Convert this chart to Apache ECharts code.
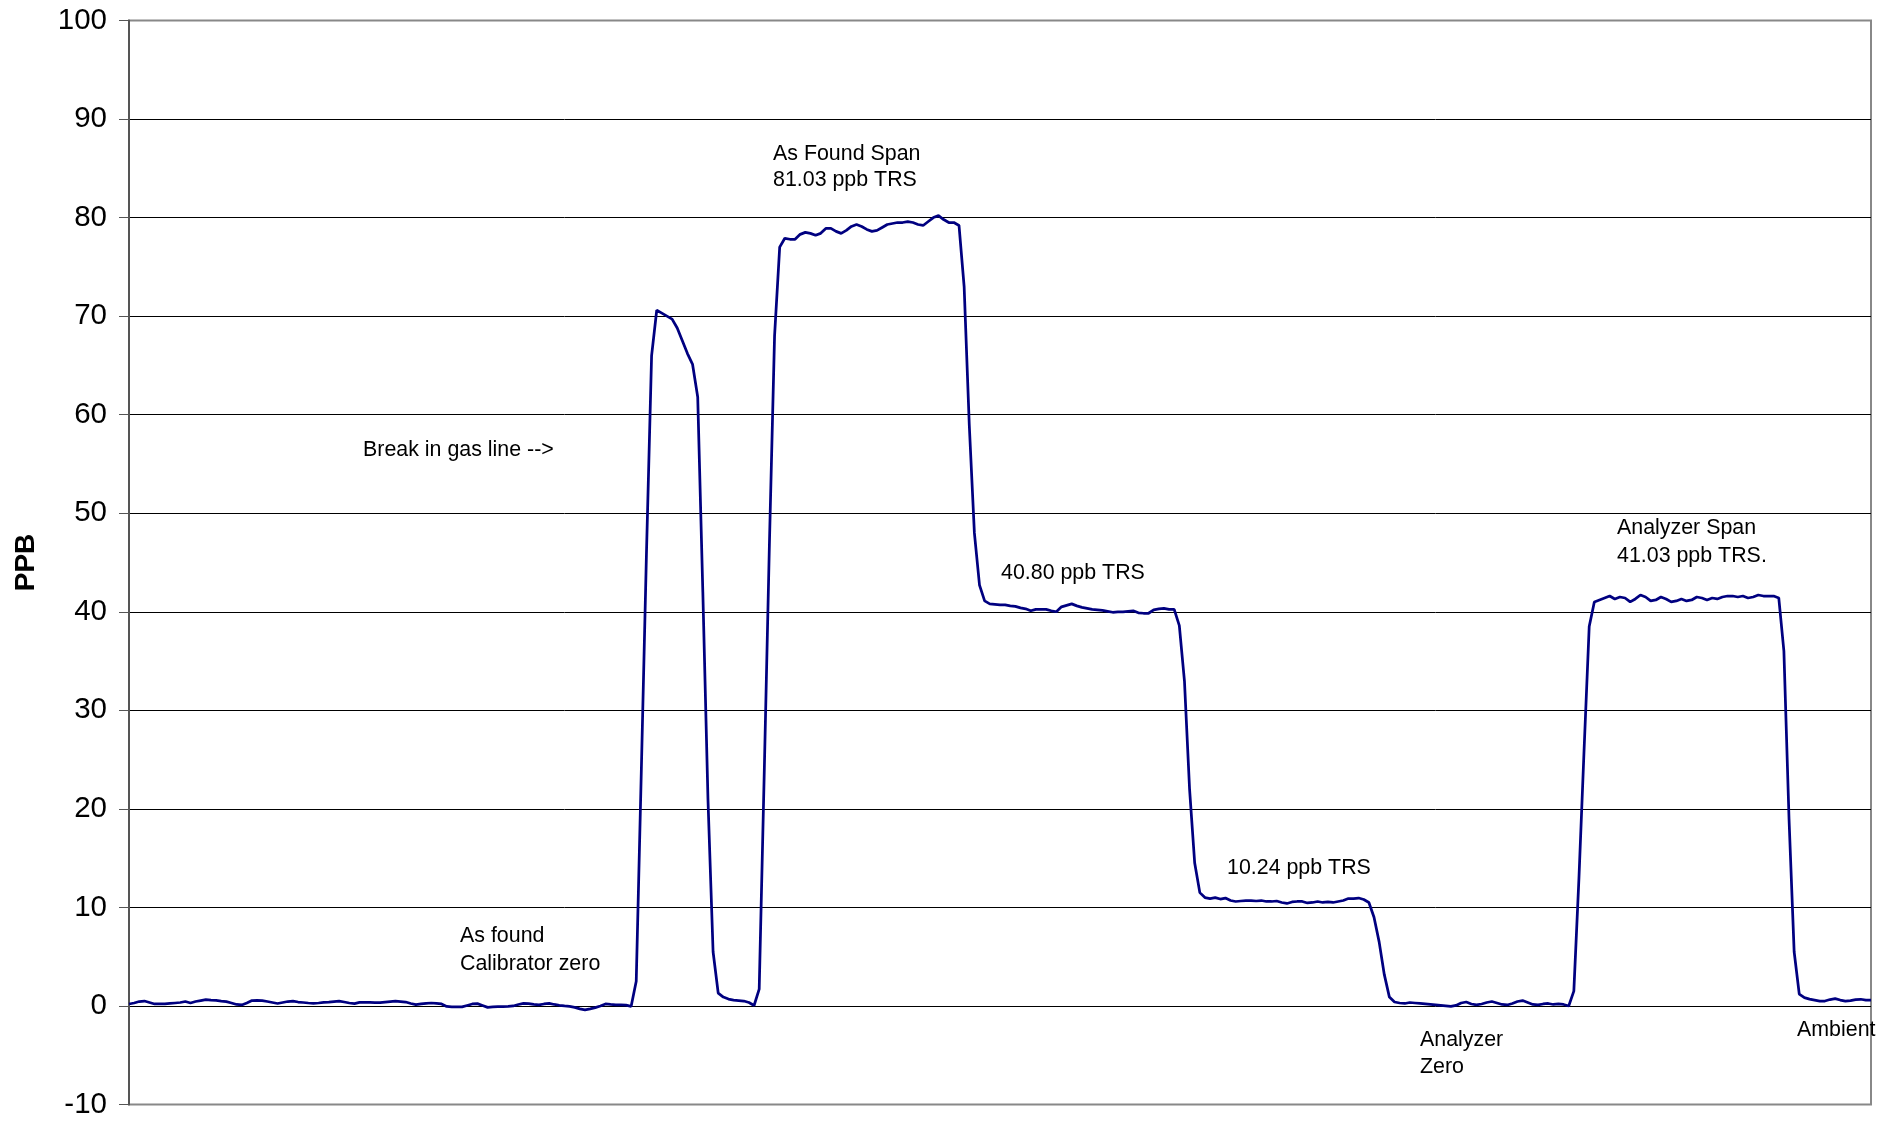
<!DOCTYPE html>
<html>
<head>
<meta charset="utf-8">
<script src="https://cdn.jsdelivr.net/npm/echarts@6/dist/echarts.min.js"></script>
<style>
  html, body { margin: 0; padding: 0; background: #fff; }
  #chart { width: 1898px; height: 1122px; }
</style>
</head>
<body>
<div id="chart"></div>
<script>
// ---- Data (PPB readings, one per sample) ----
const asFoundCalibratorZero = [
  0.2,0.3,0.45,0.5,0.35,0.2,0.2,0.2,0.25,0.3,
  0.35,0.45,0.3,0.45,0.55,0.64,0.6,0.57,0.5,0.44,
  0.3,0.15,0.1,0.3,0.55,0.57,0.55,0.45,0.35,0.25,
  0.35,0.45,0.5,0.4,0.35,0.3,0.27,0.3,0.37,0.4,
  0.45,0.5,0.4,0.3,0.24,0.37,0.37,0.37,0.35,0.34,
  0.4,0.45,0.5,0.45,0.4,0.25,0.13,0.2,0.27,0.3,
  0.25,0.2,-0.05,-0.1,-0.1,-0.1,0.05,0.2,0.24,0.05,
  -0.14,-0.1,-0.08,-0.07,-0.05,0.0,0.15,0.27,0.24,0.15,
  0.1,0.2,0.27,0.15,0.07,0.0,-0.05,-0.14,-0.3,-0.4,
  -0.3,-0.17,0.0,0.2,0.15,0.12,0.1,0.08,-0.05
];
const breakInGasLine = [
  2.5,24,46,66,70.6,70.3,70.0,69.7,68.8,67.5,66.2,65.1,61.8,42,21,5.5,
  1.3,0.9,0.7,0.6,0.55,0.5,0.35,0.05
];
const asFoundSpan = [
  1.7,24,47,68,
  77.0,77.9,77.8,77.8,78.3,78.5,78.4,78.2,78.4,78.9,
  78.9,78.6,78.4,78.7,79.1,79.3,79.1,78.8,78.6,78.7,
  79.0,79.3,79.4,79.5,79.5,79.6,79.5,79.3,79.2,79.6,
  80.0,80.2,79.8,79.5,79.5,79.2,
  73,59,48,42.7,41.1
];
const span40 = [
  40.8,40.75,40.7,40.7,40.6,40.55,40.4,40.3,40.1,40.25,
  40.25,40.25,40.1,40.0,40.5,40.65,40.8,40.6,40.45,40.35,
  40.25,40.2,40.15,40.05,39.95,40.0,40.0,40.05,40.1,39.9,
  39.85,39.85,40.2,40.3,40.35,40.25,40.25
];
const span10 = [
  38.6,33,22,14.5,
  11.5,11.0,10.9,11.0,10.85,10.95,10.7,10.6,10.65,10.7,
  10.7,10.65,10.7,10.6,10.6,10.65,10.5,10.4,10.55,10.6,
  10.6,10.45,10.5,10.6,10.5,10.55,10.5,10.6,10.7,10.9,
  10.9,10.95,10.8,10.5
];
const analyzerZero = [
  9.0,6.5,3.2,0.9,0.4,0.3,0.25,0.35,0.3,0.25,
  0.2,0.15,0.1,0.05,0.0,-0.05,0.05,0.3,0.4,0.2,
  0.1,0.2,0.35,0.45,0.3,0.15,0.1,0.25,0.45,0.55,
  0.35,0.15,0.1,0.2,0.25,0.15,0.2,0.15,0.0
];
const analyzerSpan = [
  1.5,13,26,38.5,
  41.0,41.2,41.4,41.6,41.3,41.5,41.4,41.0,41.3,41.7,
  41.5,41.1,41.2,41.5,41.3,41.0,41.1,41.3,41.1,41.2,
  41.5,41.4,41.2,41.4,41.3,41.5,41.6,41.6,41.5,41.6,
  41.4,41.5,41.7,41.6,41.6,41.6,41.4
];
const ambient = [
  36,19,5.5,1.2,0.85,0.7,0.6,0.5,0.5,0.65,0.75,0.6,0.5,0.55,0.65,0.68,0.6,0.6
];

const ppbValues = [].concat(asFoundCalibratorZero, breakInGasLine, asFoundSpan,
  span40, span10, analyzerZero, analyzerSpan, ambient);
const sampleIndex = ppbValues.map((_, i) => i);

const yMin = -10, yMax = 100, yStep = 10;
const axisName = 'PPB';

const annotations = [
  { text: 'As Found Span', x: 773, y: 154 },
  { text: '81.03 ppb TRS', x: 773, y: 180 },
  { text: 'Break in gas line -->', x: 363, y: 450 },
  { text: '40.80 ppb TRS', x: 1001, y: 573 },
  { text: 'Analyzer Span', x: 1617, y: 528 },
  { text: '41.03 ppb TRS.', x: 1617, y: 556 },
  { text: '10.24 ppb TRS', x: 1227, y: 868 },
  { text: 'As found', x: 460, y: 936 },
  { text: 'Calibrator zero', x: 460, y: 964 },
  { text: 'Analyzer', x: 1420, y: 1040 },
  { text: 'Zero', x: 1420, y: 1067 },
  { text: 'Ambient', x: 1797, y: 1030 }
];

const FONT = '"Liberation Sans", Arial, Helvetica, sans-serif';
const nTicks = Math.round((yMax - yMin) / yStep) + 1;
const splitColors = [];
for (let k = 0; k < nTicks; k++) splitColors.push((k === 0 || k === nTicks - 1) ? '#888888' : '#000000');

const chart = echarts.init(document.getElementById('chart'), null, { renderer: 'canvas' });
chart.setOption({
  animation: false,
  backgroundColor: '#ffffff',
  grid: {
    left: 129, right: 27, top: 20.5, bottom: 17.5,
    show: true, borderColor: '#888888', borderWidth: 2, backgroundColor: 'transparent'
  },
  xAxis: {
    type: 'category',
    data: sampleIndex,
    boundaryGap: false,
    axisLine: { show: false },
    axisTick: { show: false },
    axisLabel: { show: false },
    splitLine: { show: false }
  },
  yAxis: {
    type: 'value',
    min: yMin, max: yMax, interval: yStep,
    name: axisName,
    nameLocation: 'middle',
    nameRotate: 90,
    nameGap: 89,
    nameTextStyle: { fontFamily: FONT, fontSize: 28, fontWeight: 'bold', color: '#000' },
    axisLine: { show: true, lineStyle: { color: '#555555', width: 2 } },
    axisTick: { show: true, length: 10, lineStyle: { color: '#555555', width: 1 } },
    axisLabel: { fontFamily: FONT, fontSize: 29.5, color: '#000', margin: 22 },
    splitLine: { show: true, lineStyle: { color: splitColors, width: 1 } }
  },
  series: [{
    type: 'line',
    data: ppbValues,
    showSymbol: false,
    symbol: 'none',
    lineStyle: { color: '#000080', width: 2.75 },
    itemStyle: { color: '#000080' },
    z: 5
  }],
  graphic: annotations.map(a => ({
    type: 'text',
    x: a.x, y: a.y,
    z: 10,
    style: {
      text: a.text,
      fill: '#000',
      fontFamily: FONT,
      fontSize: 21.4,
      textAlign: 'left',
      textVerticalAlign: 'middle',
      verticalAlign: 'middle'
    }
  }))
});
</script>
</body>
</html>
